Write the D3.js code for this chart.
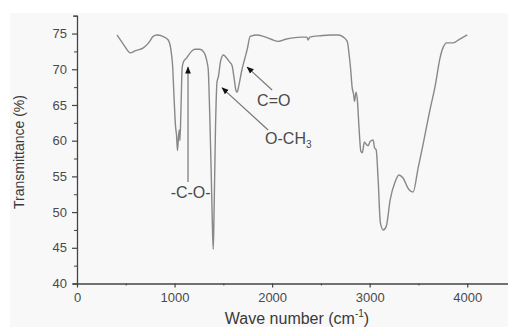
<!DOCTYPE html>
<html>
<head>
<meta charset="utf-8">
<script src="https://cdn.jsdelivr.net/npm/d3@7"></script>
<style>
  body { margin: 0; background: #fff; }
  svg { display: block; font-family: "Liberation Sans", Arial, sans-serif; }
</style>
</head>
<body>
<div id="chart"></div>
<script>
// FTIR spectrum
const waveNumber = [410, 450, 490, 545, 600, 680, 740, 780, 820, 880, 935, 965, 980, 995, 1010, 1020,
  1030, 1040, 1048, 1055, 1065, 1078, 1090, 1125, 1160, 1210, 1260, 1300, 1330, 1345, 1360, 1375,
  1390, 1397, 1405, 1420, 1435, 1450, 1470, 1500, 1520, 1560, 1590, 1610, 1630, 1642, 1660, 1690,
  1720, 1745, 1775, 1850, 1910, 1990, 2065, 2140, 2215, 2300, 2355, 2370, 2385, 2500, 2600, 2680,
  2730, 2770, 2790, 2805, 2820, 2835, 2845, 2860, 2875, 2890, 2910, 2925, 2945, 2965, 2985, 3005,
  3035, 3050, 3067, 3087, 3110, 3140, 3170, 3210, 3260, 3300, 3340, 3400, 3445, 3497, 3549, 3610,
  3672, 3720, 3754, 3790, 3855, 3920, 4000];
const transmittance = [74.8, 74.0, 73.2, 72.3, 72.6, 73.0, 73.8, 74.6, 74.8, 74.6, 74.1, 72.5, 70.5, 66, 62, 60.8,
  58.6, 60.5, 61.5, 60.0, 64, 70.2, 71.0, 71.6, 72.3, 72.8, 72.8, 72.4, 71.2, 70.0, 64, 56,
  47, 44.8, 50, 62, 68.2, 69.0, 71.0, 72.0, 71.8, 71.1, 70.5, 68.8, 67.0, 66.8, 67.8, 69.9,
  71.5, 72.8, 74.6, 74.8, 74.6, 74.2, 73.9, 74.2, 74.4, 74.5, 74.5, 74.1, 74.5, 74.7, 74.8, 74.8,
  74.5, 73.9, 72.0, 70.0, 67.5, 66.5, 65.5, 66.8, 65.5, 62, 58.5, 58.3, 59.8, 59.5, 59.3, 59.9,
  60.1, 59.0, 58.7, 54.5, 48.5, 47.5, 48.0, 51.7, 54.2, 55.2, 54.8, 53.2, 52.8, 56.2, 59.6, 63.8,
  67.7, 71.5, 73.1, 73.7, 73.7, 74.2, 74.8];

// annotations: arrow tip, arrow tail and label position, in data units
const notes = [
  { label: "-C-O-", tip: [1138, 70.3], tail: [1138, 54.2], pos: [1165, 52.0], anchor: "middle" },
  { label: "O-CH", sub: "3", tip: [1487, 67.4], tail: [1959, 61.5], pos: [1928, 59.5], anchor: "start" },
  { label: "C=O", tip: [1744, 70.3], tail: [2000, 67.1], pos: [1846, 64.9], anchor: "start" }
];

const xMajor = [0, 1000, 2000, 3000, 4000];
const xMinor = [500, 1500, 2500, 3500];
const yMajor = [40, 45, 50, 55, 60, 65, 70, 75];
const yMinor = [42.5, 47.5, 52.5, 57.5, 62.5, 67.5, 72.5, 77.5];

const W = 508, H = 327;
const svg = d3.select('#chart').append('svg').attr('width', W).attr('height', H);

svg.append('rect').attr('x', 10).attr('y', 13).attr('width', W - 10).attr('height', H - 13)
  .attr('fill', '#f8f8f8');

const x = d3.scaleLinear().domain([0, 4500]).range([77, 516]);
const y = d3.scaleLinear().domain([40, 77.5]).range([283.5, 15.7]);

// minor ticks first
svg.append('g').attr('transform', 'translate(0,283.5)')
  .call(d3.axisBottom(x).tickValues(xMinor).tickSize(2).tickFormat(''))
  .call(g => g.select('.domain').remove())
  .call(g => g.selectAll('line').attr('stroke', '#444'));
svg.append('g').attr('transform', 'translate(77,0)')
  .call(d3.axisLeft(y).tickValues(yMinor).tickSize(3).tickFormat(''))
  .call(g => g.select('.domain').remove())
  .call(g => g.selectAll('line').attr('stroke', '#444'));

const xAxis = svg.append('g').attr('transform', 'translate(0,283.5)')
  .call(d3.axisBottom(x).tickValues(xMajor).tickFormat(d3.format('d'))
    .tickSize(4).tickSizeOuter(0).tickPadding(5));
const yAxis = svg.append('g').attr('transform', 'translate(77,0)')
  .call(d3.axisLeft(y).tickValues(yMajor).tickSize(5).tickSizeOuter(4).tickPadding(5));

[xAxis, yAxis].forEach(g => {
  g.select('.domain').attr('stroke', '#444').attr('stroke-width', 1.3);
  g.selectAll('line').attr('stroke', '#444').attr('stroke-width', 1.2);
  g.selectAll('text').attr('font-size', 13).attr('fill', '#4a4a4a')
    .attr('font-family', '"Liberation Sans", Arial, sans-serif');
});

// spectrum
const pts = waveNumber.map((v, i) => [v, transmittance[i]]);
svg.append('path')
  .datum(pts)
  .attr('fill', 'none')
  .attr('stroke', '#888')
  .attr('stroke-width', 1.4)
  .attr('d', d3.line().x(d => x(d[0])).y(d => y(d[1])).curve(d3.curveMonotoneX));

// arrows
svg.append('defs').append('marker')
  .attr('id', 'head').attr('viewBox', '0 0 10 10')
  .attr('refX', 9).attr('refY', 5)
  .attr('markerWidth', 6).attr('markerHeight', 6)
  .attr('orient', 'auto')
  .append('path').attr('d', 'M0,1L10,5L0,9Z').attr('fill', '#111');

notes.forEach(n => {
  svg.append('line')
    .attr('x1', x(n.tail[0])).attr('y1', y(n.tail[1]))
    .attr('x2', x(n.tip[0])).attr('y2', y(n.tip[1]))
    .attr('stroke', '#777').attr('stroke-width', 1.2)
    .attr('marker-end', 'url(#head)');
  const t = svg.append('text')
    .attr('x', x(n.pos[0])).attr('y', y(n.pos[1]))
    .attr('text-anchor', n.anchor)
    .attr('font-size', 16).attr('fill', '#4a4a4a')
    .text(n.label);
  if (n.sub) t.append('tspan').attr('font-size', 10).attr('dy', 4).text(n.sub);
});

// axis titles
svg.append('text')
  .attr('x', 297).attr('y', 324)
  .attr('text-anchor', 'middle').attr('font-size', 16).attr('fill', '#3a3a3a')
  .text('Wave number (cm')
  .call(t => t.append('tspan').attr('font-size', 10).attr('dy', -7).text('-1'))
  .call(t => t.append('tspan').attr('dy', 7).text(')'));

svg.append('text')
  .attr('transform', 'translate(24,152) rotate(-90)')
  .attr('text-anchor', 'middle').attr('font-size', 14).attr('fill', '#3a3a3a')
  .text('Transmittance (%)');
</script>
</body>
</html>
